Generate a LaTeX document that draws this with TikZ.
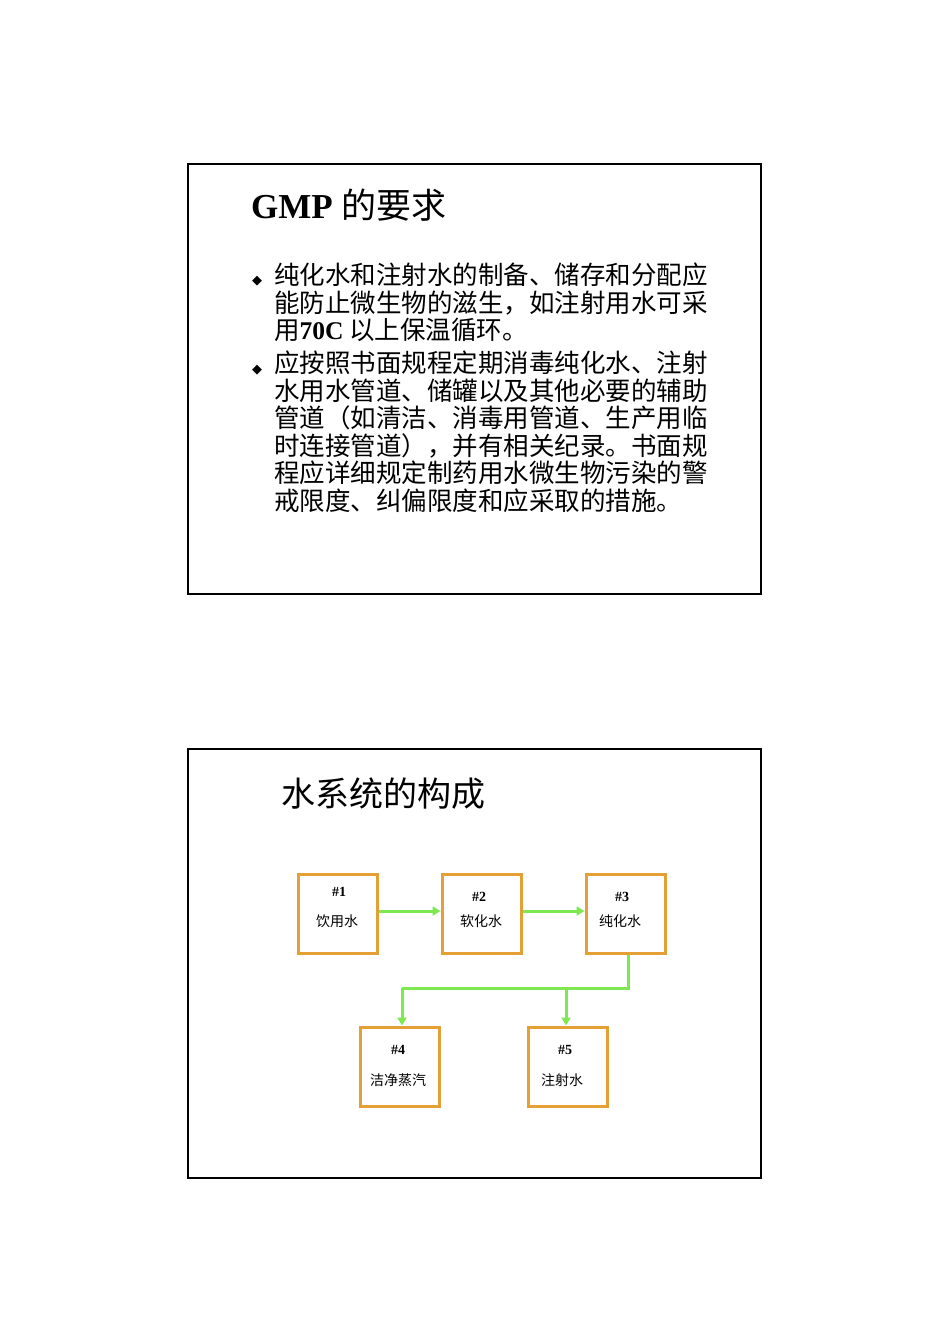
\documentclass[tikz,border=0pt]{standalone}
\usepackage{fontspec}
\setmainfont{Liberation Serif}
\newfontfamily\cjk{Noto Sans CJK SC}
\newfontfamily\dejavu{DejaVu Sans}
\usetikzlibrary{arrows.meta}
\definecolor{boxor}{RGB}{228,160,52}
\definecolor{arrgr}{RGB}{125,232,80}
\tikzset{
  frame/.style={draw=black,line width=1.3pt},
  wbox/.style={draw=boxor,line width=3pt,minimum width=79pt,minimum height=79pt,inner sep=0pt},
  flow/.style={draw=arrgr,line width=3pt,-{Triangle[length=8pt,width=9pt]}},
  para/.style={anchor=base west,inner sep=0pt,font=\fontsize{25.5}{25.5}\selectfont\cjk},
  bul/.style={anchor=base west,inner sep=0pt,font=\fontsize{13}{13}\selectfont\dejavu},
  lbl/.style={inner sep=0pt,font=\fontsize{14}{14}\selectfont}
}
\begin{document}
\begin{tikzpicture}[x=1pt,y=-1pt]
\useasboundingbox (0,0) rectangle (950,1344);
\fill[white] (0,0) rectangle (950,1344);
% frame 1
\draw[frame] (188,164) rectangle (761,594);
\node[anchor=base west,inner sep=0pt,font=\fontsize{35}{35}\selectfont] (t1) at (251,218) {\textbf{GMP} {\cjk 的要求}};
\node[bul] (b1) at (252,284) {◆};
\node[para] (l1) at (274,284) {纯化水和注射水的制备、储存和分配应};
\node[para] (l2) at (274,312) {能防止微生物的滋生，如注射用水可采};
\node[para] (l3) at (274,339) {用{\rmfamily\bfseries 70C} 以上保温循环。};
\node[bul] (b2) at (252,373) {◆};
\node[para] (m1) at (274,372) {应按照书面规程定期消毒纯化水、注射};
\node[para] (m2) at (274,400) {水用水管道、储罐以及其他必要的辅助};
\node[para] (m3) at (274,427) {管道（如清洁、消毒用管道、生产用临};
\node[para] (m4) at (274,455) {时连接管道），并有相关纪录。书面规};
\node[para] (m5) at (274,482) {程应详细规定制药用水微生物污染的警};
\node[para] (m6) at (274,510) {戒限度、纠偏限度和应采取的措施。};
% frame 2
\draw[frame] (188,749) rectangle (761,1178);
\node[anchor=base west,inner sep=0pt,font=\fontsize{34}{34}\selectfont\cjk] (t2) at (281,806) {水系统的构成};
\node[wbox] (n1) at (337.5,913.5) {};
\node[wbox] (n2) at (481.5,913.5) {};
\node[wbox] (n3) at (625.5,913.5) {};
\node[wbox] (n4) at (400,1066.5) {};
\node[wbox] (n5) at (567.5,1066.5) {};
\node[lbl,font=\fontsize{14}{14}\selectfont\bfseries] at (339,892) {\#1};
\node[lbl,font=\fontsize{14}{14}\selectfont\cjk] at (337,921) {饮用水};
\node[lbl,font=\fontsize{14}{14}\selectfont\bfseries] at (479,897) {\#2};
\node[lbl,font=\fontsize{14}{14}\selectfont\cjk] at (481,921) {软化水};
\node[lbl,font=\fontsize{14}{14}\selectfont\bfseries] at (622,897) {\#3};
\node[lbl,font=\fontsize{14}{14}\selectfont\cjk] at (620,921) {纯化水};
\node[lbl,font=\fontsize{14}{14}\selectfont\bfseries] at (398,1050) {\#4};
\node[lbl,font=\fontsize{14}{14}\selectfont\cjk] at (398,1080) {洁净蒸汽};
\node[lbl,font=\fontsize{14}{14}\selectfont\bfseries] at (565,1050) {\#5};
\node[lbl,font=\fontsize{14}{14}\selectfont\cjk] at (562,1080) {注射水};
\draw[flow] (n1.east |- 0,911) -- (n2.west |- 0,911);
\draw[flow] (n2.east |- 0,911) -- (n3.west |- 0,911);
\coordinate (j) at (628,988);
\coordinate (jb) at (566,988);
\draw[draw=arrgr,line width=3pt] (n3.south -| j) -- (j) -- (402,988) coordinate (ja);
\draw[flow] (ja) -- (n4.north -| ja);
\draw[flow] (jb) -- (n5.north -| jb);
\end{tikzpicture}
\end{document}
